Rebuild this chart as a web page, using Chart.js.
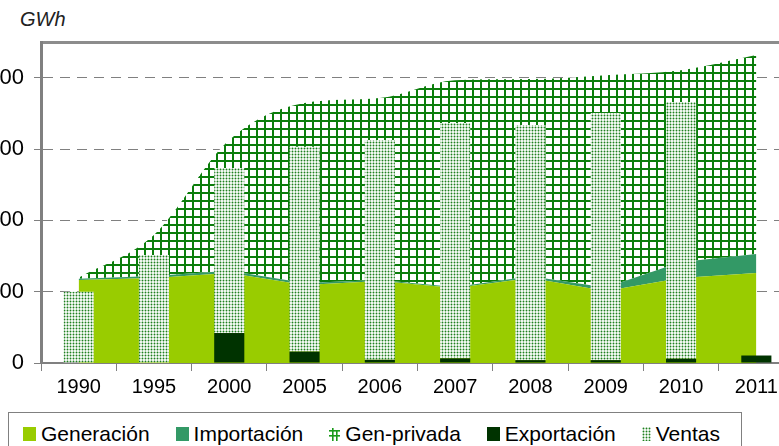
<!DOCTYPE html>
<html>
<head>
<meta charset="utf-8">
<script src="https://cdn.jsdelivr.net/npm/chart.js@4.4.1/dist/chart.umd.min.js"></script>
<style>
  html, body { margin: 0; padding: 0; background: #fff; }
  body { width: 779px; height: 446px; overflow: hidden; position: relative; font-family: "Liberation Sans", Arial, sans-serif; }
  #wrap { position: absolute; left: 0; top: 0; width: 820px; height: 400px; }
  #unit { position: absolute; left: 20px; top: 8px; font-size: 20px; font-style: italic; color: #222; }
  #legend { position: absolute; left: 8px; top: 412px; width: 734px; height: 50px; border: 1px solid #808080; box-sizing: border-box;
            display: flex; align-items: flex-start; padding: 9px 0 0 14px; font-size: 21px; color: #000; }
  .item { display: flex; align-items: center; margin-right: 26px; white-space: nowrap; line-height: 24px; }
  .sw { display: block; width: 13px; height: 14px; margin-right: 5px; }
  .sw svg { display: block; }
</style>
</head>
<body>
<div id="unit">GWh</div>
<div id="wrap"><canvas id="chart"></canvas></div>
<div id="legend"></div>
<script>
var years = ['1990', '1995', '2000', '2005', '2006', '2007', '2008', '2009', '2010', '2011'];
var generacion = [1165, 1190, 1262, 1095, 1150, 1050, 1190, 1010, 1190, 1262];
var importacion = [15, 30, 30, 25, 15, 15, 25, 50, 225, 265];
var genPrivada = [15, 575, 1835, 2525, 2550, 2900, 2765, 2975, 2690, 2790];
var exportacion = [0, 0, 420, 160, 45, 65, 40, 40, 60, 105];
var ventas = [1000, 1515, 2315, 2870, 3080, 3300, 3295, 3465, 3600, null];
var yTicks = [0, 1000, 2000, 3000, 4000];

var FONT = '"Liberation Sans", Arial, sans-serif';

// pattern tiles
function makeTile(w, h, draw) {
  var c = document.createElement('canvas');
  c.width = w; c.height = h;
  var g = c.getContext('2d');
  g.fillStyle = '#fff';
  g.fillRect(0, 0, w, h);
  draw(g);
  return c;
}
var gridTile = makeTile(8, 8, function(g) {
  g.fillStyle = '#0b7d0b';
  g.fillRect(0, 0, 8, 2);
  g.fillRect(0, 0, 2, 8);
});
var dotTile = makeTile(3, 3, function(g) {
  g.fillStyle = '#1f801f';
  g.beginPath();
  g.arc(1.5, 1.5, 0.95, 0, Math.PI * 2);
  g.fill();
});

var ctx = document.getElementById('chart').getContext('2d');
var gridPattern = ctx.createPattern(gridTile, 'repeat');
var dotPattern = ctx.createPattern(dotTile, 'repeat');

var chart = new Chart(ctx, {
  data: {
    labels: years,
    datasets: [{
      type: 'line',
      label: 'Generación',
      data: generacion,
      stack: 'area',
      fill: 'origin',
      backgroundColor: '#99cc00',
      borderWidth: 0,
      pointRadius: 0,
      tension: 0,
      order: 2
    }, {
      type: 'line',
      label: 'Importación',
      data: importacion,
      stack: 'area',
      fill: '-1',
      backgroundColor: '#339966',
      borderWidth: 0,
      pointRadius: 0,
      tension: 0,
      order: 2
    }, {
      type: 'line',
      label: 'Gen-privada',
      data: genPrivada,
      stack: 'area',
      fill: '-1',
      backgroundColor: gridPattern,
      borderWidth: 0,
      pointRadius: 0,
      cubicInterpolationMode: 'monotone',
      order: 2
    }, {
      type: 'bar',
      label: 'Exportación',
      data: exportacion,
      stack: 'bars',
      backgroundColor: '#003300',
      barPercentage: 0.4,
      categoryPercentage: 1,
      order: 1
    }, {
      type: 'bar',
      label: 'Ventas',
      data: ventas,
      stack: 'bars',
      backgroundColor: dotPattern,
      barPercentage: 0.4,
      categoryPercentage: 1,
      order: 1
    }]
  },
  options: {
    responsive: true,
    maintainAspectRatio: false,
    animation: false,
    layout: { padding: { top: 42, right: 26, left: 0, bottom: 0 } },
    plugins: {
      legend: { display: false },
      tooltip: { enabled: false }
    },
    scales: {
      x: {
        type: 'category',
        position: 'bottom',
        stacked: true,
        offset: true,
        afterFit: function(s) { s.height = 37; },
        grid: { offset: true, drawOnChartArea: false, tickLength: 8, color: '#808080' },
        border: { color: '#808080', width: 2 },
        ticks: { color: '#000', padding: 4, font: { family: FONT, size: 20 }, maxRotation: 0, autoSkip: false }
      },
      x2: {
        type: 'category',
        position: 'top',
        afterFit: function(s) { s.height = 0; },
        grid: { display: false },
        border: { display: true, color: '#8c8c8c', width: 3 },
        ticks: { display: false }
      },
      y: {
        stacked: true,
        min: 0,
        max: 4500,
        afterFit: function(s) { s.width = 41; },
        afterBuildTicks: function(s) {
          s.ticks = yTicks.map(function(v) { return { value: v }; });
        },
        grid: { color: '#808080', lineWidth: 1, tickLength: 7 },
        border: { color: '#808080', width: 3, dash: [10, 7] },
        ticks: {
          color: '#000',
          padding: 10,
          font: { family: FONT, size: 22 },
          callback: function(v) { return String(v); }
        }
      }
    }
  }
});

// legend
var legendItems = [
  { label: 'Generación', kind: 'solid', color: '#99cc00' },
  { label: 'Importación', kind: 'solid', color: '#339966' },
  { label: 'Gen-privada', kind: 'hash' },
  { label: 'Exportación', kind: 'solid', color: '#003300' },
  { label: 'Ventas', kind: 'dots' }
];
var legend = document.getElementById('legend');
legendItems.forEach(function(it) {
  var d = document.createElement('div');
  d.className = 'item';
  var sw = document.createElement('span');
  sw.className = 'sw';
  if (it.kind === 'solid') {
    sw.style.background = it.color;
  } else if (it.kind === 'hash') {
    sw.style.width = '11px';
    sw.innerHTML = '<svg width="11" height="14"><rect x="3" y="1" width="1.6" height="13" fill="#1a9a1a"/><rect x="7" y="3" width="1.6" height="11" fill="#1a9a1a"/><rect x="0" y="3" width="11" height="1.6" fill="#1a9a1a"/><rect x="0" y="8" width="11" height="1.6" fill="#1a9a1a"/></svg>';
  } else {
    sw.style.width = '9px';
    sw.style.backgroundImage = 'url(' + dotTile.toDataURL() + ')';
  }
  d.appendChild(sw);
  d.appendChild(document.createTextNode(it.label));
  legend.appendChild(d);
});
</script>
</body>
</html>
